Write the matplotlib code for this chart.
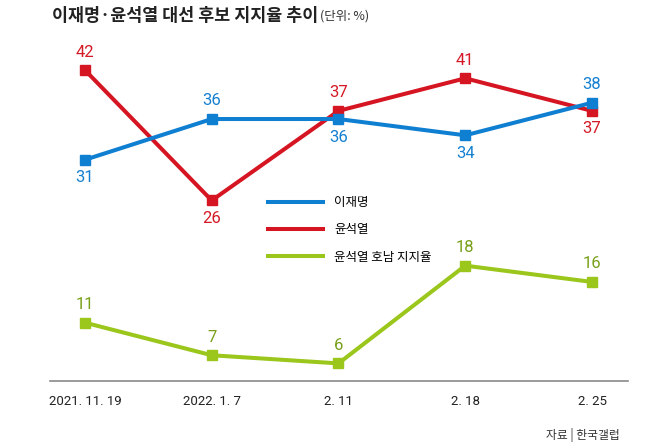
import matplotlib.pyplot as plt
from matplotlib.lines import Line2D

plt.rcParams['font.family'] = ['Noto Sans CJK KR', 'DejaVu Sans']

dates = ['2021. 11. 19', '2022. 1. 7', '2. 11', '2. 18', '2. 25']
lee = [31, 36, 36, 34, 38]
yoon = [42, 26, 37, 41, 37]
yoon_honam = [11, 7, 6, 18, 16]

# label above (+1) or below (-1) each point
lee_pos = [-1, 1, -1, -1, 1]
yoon_pos = [1, -1, 1, 1, -1]
honam_pos = [1, 1, 1, 1, 1]

blue = '#0f7fd1'
red = '#d61522'
green = '#9bc61b'

num_font = ['Roboto', 'DejaVu Sans']

fig = plt.figure(figsize=(6.5, 4.43), dpi=100)
ax = fig.add_axes([50 / 650, 62 / 443, 578 / 650, 341 / 443])

x = list(range(len(dates)))
series = [
    (yoon, yoon_pos, red, '#d41a26', '윤석열'),
    (lee, lee_pos, blue, '#1580d0', '이재명'),
    (yoon_honam, honam_pos, green, '#78a01a', '윤석열 호남 지지율'),
]
for vals, pos, col, lcol, name in series:
    ax.plot(x, vals, color=col, lw=2.9, marker='s', ms=7.2, solid_joinstyle='miter')
    for xi, v, p in zip(x, vals, pos):
        ax.annotate(str(v), (xi, v), xytext=(0, 13 * p), textcoords='offset points',
                    ha='center', va='center', fontsize=12, color=lcol,
                    family=num_font)

ax.set_xlim(-0.276, 4.284)
ax.set_ylim(3.84, 45.7)
for s in ['top', 'left', 'right']:
    ax.spines[s].set_visible(False)
ax.spines['bottom'].set_color('#8a8a8a')
ax.spines['bottom'].set_linewidth(1.2)
ax.set_yticks([])
ax.set_xticks(x)
ax.set_xticklabels(dates, family=num_font, fontsize=9.5, color='#222222')
ax.tick_params(axis='x', length=0, pad=10)

handles = [Line2D([], [], color=c, lw=2.9) for c in (blue, red, green)]
fig.legend(handles, ['이재명', '윤석열', '윤석열 호남 지지율'], loc='upper left',
           bbox_to_anchor=(268 / 650, 1 - 196 / 443), frameon=False,
           prop={'size': 9, 'weight': 'medium'},
           handlelength=4.4, handletextpad=0.9, labelspacing=1.15,
           borderpad=0, borderaxespad=0)

t = fig.text(52 / 650, 1 - 16 / 443, '이재명·윤석열 대선 후보 지지율 추이', fontsize=12.5,
             fontweight='bold', color='#222222', va='center', ha='left')
ax.annotate('(단위: %)', xy=(1.0, 0.5), xycoords=t, xytext=(1, 0), textcoords='offset points',
            fontsize=9, color='#333333', va='center', ha='left', annotation_clip=False)

fig.text(620 / 650, 1 - 435 / 443, '자료 | 한국갤럽', fontsize=8.5, color='#333333',
         ha='right', va='center')

fig.savefig('out.png', dpi=100)
